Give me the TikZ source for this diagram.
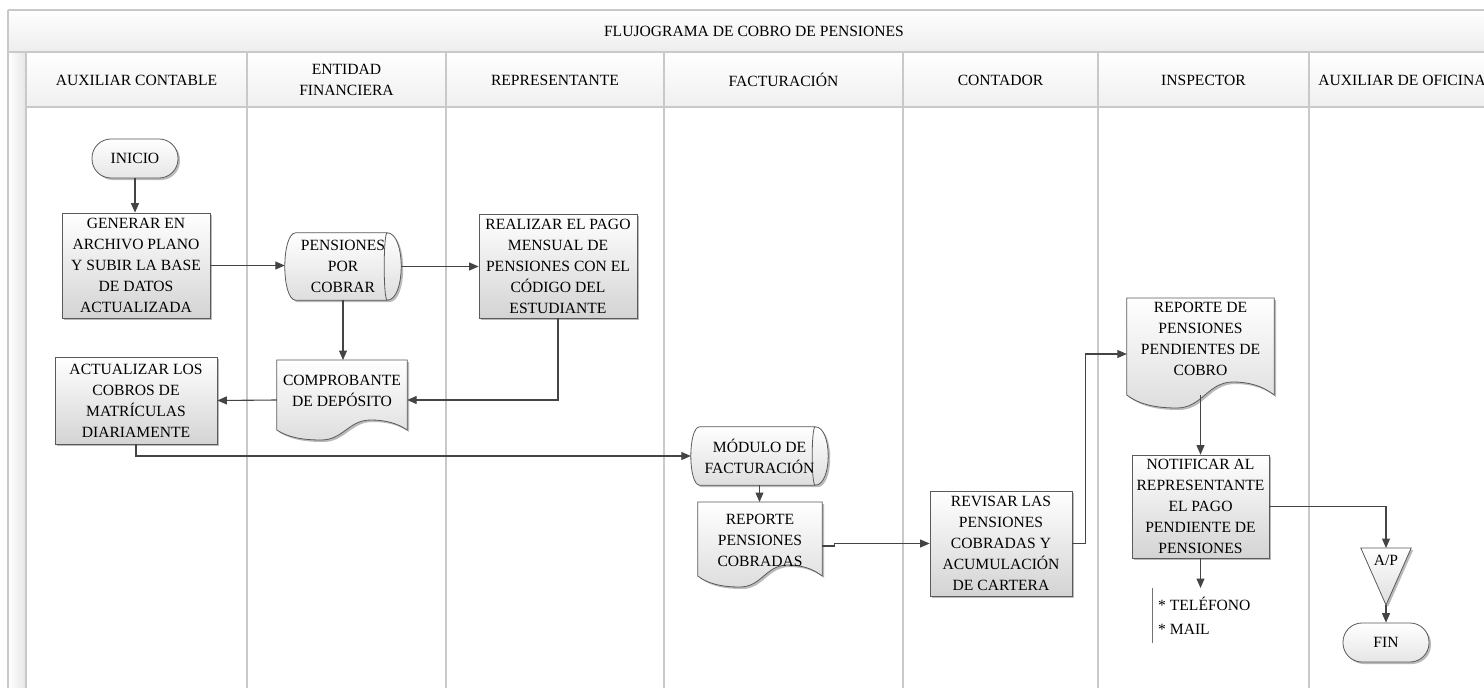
\documentclass[tikz,border=0pt]{standalone}
\usepackage{fontspec}
\setmainfont{Liberation Serif}
\usetikzlibrary{arrows.meta,calc,shadows}
\pgfdeclarelayer{lanes}
\pgfdeclarelayer{background}
\pgfsetlayers{lanes,background,main}
\definecolor{gridc}{HTML}{C9C9C9}
\definecolor{linec}{HTML}{444444}
\definecolor{boxc}{HTML}{5A5A5A}

\tikzset{
  txt/.style={font=\fontsize{15.6}{21}\selectfont, text=black},
  boxshadow/.style={drop shadow={shadow xshift=2pt, shadow yshift=-2pt, opacity=.45, fill=black!60}},
  proc/.style={txt, draw=boxc, line width=.8pt, top color=white, bottom color=black!17,
    boxshadow, align=center, inner sep=2pt},
  term/.style={proc, rounded corners=19pt, minimum width=86pt, minimum height=39pt, bottom color=black!10},
  plain/.style={txt, align=center, inner sep=3pt},
  shapebody/.style={draw=boxc, line width=.8pt, top color=white, bottom color=black!13, boxshadow},
  shapeline/.style={draw=boxc, line width=.8pt},
  conn/.style={draw=linec, line width=1.1pt, -{Triangle[length=9.5pt,width=8pt]}},
  lane/.style={draw=gridc, line width=1.4pt},
  hdr/.style={txt, align=center},
}

% document symbol: node, side height, wave amplitude
\newcommand{\docoutline}[3]{%
  \begin{pgfonlayer}{background}
  \path[shapebody] let \p1=(#1.north west), \p2=(#1.north east), \n1={\x2-\x1} in
    (\p1) -- (\p2) -- (\x2,{\y1-#2pt})
    .. controls ({\x2-0.08*\n1},{\y1-#2pt+0.7*#3pt}) and ({\x1+0.83*\n1},{\y1-#2pt+#3pt}) .. ({\x1+0.72*\n1},{\y1-#2pt+#3pt})
    .. controls ({\x1+0.55*\n1},{\y1-#2pt+#3pt}) and ({\x1+0.51*\n1},{\y1-#2pt-#3pt}) .. ({\x1+0.34*\n1},{\y1-#2pt-#3pt})
    .. controls ({\x1+0.19*\n1},{\y1-#2pt-#3pt}) and ({\x1+0.08*\n1},{\y1-#2pt-0.7*#3pt}) .. (\x1,{\y1-#2pt})
    -- cycle;
  \end{pgfonlayer}}

% stored data symbol: node, left bulge, right bulge, inner bulge
\newcommand{\storoutline}[4]{%
  \begin{pgfonlayer}{background}
  \path[shapebody] let \p1=(#1.north west), \p2=(#1.south east) in
    ({\x1+#2pt},\y1) -- ({\x2-#3pt},\y1)
    .. controls ({\x2+#3pt/3},\y1) and ({\x2+#3pt/3},\y2) .. ({\x2-#3pt},\y2)
    -- ({\x1+#2pt},\y2)
    .. controls ({\x1-#2pt/3},\y2) and ({\x1-#2pt/3},\y1) .. ({\x1+#2pt},\y1) -- cycle;
  \draw[shapeline] let \p1=(#1.north east), \p2=(#1.south east) in
    ({\x1-#3pt},\y1) .. controls ({\x1-#3pt-4/3*#4pt},\y1) and ({\x1-#3pt-4/3*#4pt},\y2) .. ({\x1-#3pt},\y2);
  \end{pgfonlayer}}

% off-page connector: node, height
\newcommand{\trioutline}[2]{%
  \begin{pgfonlayer}{background}
  \path[shapebody] let \p1=(#1.north west), \p2=(#1.north east), \p3=(#1.north) in
    (\p1) -- (\p2) -- (\x3,{\y3-#2pt}) -- cycle;
  \end{pgfonlayer}}

\begin{document}
\begin{tikzpicture}[x=1pt,y=-1pt]
\useasboundingbox (0,0) rectangle (1484,688);

% swimlane frame
\begin{pgfonlayer}{lanes}
  \fill[white] (0,0) rectangle (1484,688);
  \fill[top color=white, bottom color=black!7] (8,10) rectangle (1500,52);
  \fill[left color=white, right color=black!10] (8,52) rectangle (26,700);
  \foreach \a/\b in {26/247,247/446,446/664,664/903,903/1098,1098/1309,1309/1495}
    \fill[top color=white, bottom color=black!6] (\a,52) rectangle (\b,107);
  \draw[lane] (8,10) -- (1500,10);
  \draw[lane] (8,52) -- (1500,52);
  \draw[lane] (26,107) -- (1500,107);
  \draw[lane] (8,10) -- (8,700);
  \foreach \x in {26,247,446,664,903,1098,1309,1495}
    \draw[lane] (\x,52) -- (\x,700);
\end{pgfonlayer}

\node[hdr] (title) at (754,31) {FLUJOGRAMA DE COBRO DE PENSIONES};
\node[hdr] (h1) at (136.5,80) {AUXILIAR CONTABLE};
\node[hdr] (h2) at (346.5,80) {ENTIDAD\\FINANCIERA};
\node[hdr] (h3) at (555,80) {REPRESENTANTE};
\node[hdr] (h4) at (783.5,80) {FACTURACIÓN};
\node[hdr] (h5) at (1000.5,80) {CONTADOR};
\node[hdr] (h6) at (1203.5,80) {INSPECTOR};
\node[hdr] (h7) at (1402,80) {AUXILIAR DE OFICINA};

% flow symbols
\node[term] (ini) at (135,158.5) {INICIO};
\node[proc, minimum width=148pt, minimum height=105pt] (gen) at (136,265.5)
  {GENERAR EN\\ARCHIVO PLANO\\Y SUBIR LA BASE\\DE DATOS\\ACTUALIZADA};
\node[plain, minimum width=116pt, minimum height=67pt] (pen) at (343,266.5) {PENSIONES\\POR\\COBRAR};
\node[proc, minimum width=158pt, minimum height=104pt] (real) at (558,266)
  {REALIZAR EL PAGO\\MENSUAL DE\\PENSIONES CON EL\\CÓDIGO DEL\\ESTUDIANTE};
\node[plain, anchor=north, minimum width=130pt, minimum height=62pt] (comp) at (342,360)
  {COMPROBANTE\\DE DEPÓSITO};
\node[proc, minimum width=162pt, minimum height=87pt] (act) at (136,400.5)
  {ACTUALIZAR LOS\\COBROS DE\\MATRÍCULAS\\DIARIAMENTE};
\node[plain, minimum width=137pt, minimum height=58pt] (mod) at (759.5,456) {MÓDULO DE\\FACTURACIÓN};
\node[plain, anchor=north, minimum width=124pt, minimum height=76pt] (rcob) at (760,502)
  {REPORTE\\PENSIONES\\COBRADAS};
\node[proc, minimum width=142pt, minimum height=105pt] (rev) at (1001,543.5)
  {REVISAR LAS\\PENSIONES\\COBRADAS Y\\ACUMULACIÓN\\DE CARTERA};
\node[plain, anchor=north, minimum width=147pt, minimum height=82pt] (pend) at (1200.5,298)
  {REPORTE DE\\PENSIONES\\PENDIENTES DE\\COBRO};
\node[proc, minimum width=137pt, minimum height=103pt] (notif) at (1200.5,506.5)
  {NOTIFICAR AL\\REPRESENTANTE\\EL PAGO\\PENDIENTE DE\\PENSIONES};
\node[txt, anchor=north west, align=left, minimum height=55pt, inner xsep=6pt] (note) at (1152,588)
  {* TELÉFONO\\[3pt]* MAIL};
\node[plain, anchor=north, minimum width=50pt, inner ysep=7pt] (ap) at (1386,548) {A/P};
\node[term] (fin) at (1386,642.5) {FIN};

\docoutline{comp}{70}{10}
\docoutline{rcob}{74}{11}
\docoutline{pend}{97}{13}
\storoutline{pen}{11}{14}{3}
\storoutline{mod}{9}{13}{3}
\trioutline{ap}{57}
\draw[draw=black!55, line width=.8pt] (note.north west) -- (note.south west);

% connectors
\draw[conn] (ini.south) -- (ini.south |- gen.north);
\draw[conn] (gen.east) -- (gen.east -| pen.west);
\draw[conn] (pen.east) -- (pen.east -| real.west);
\draw[conn] (pen.south) -- (pen.south |- comp.north);
\draw[conn] (real.south) |- ([yshift=-40pt]comp.north east);
\draw[conn] ([yshift=-40pt]comp.north west) -- (act.east);
\draw[conn] (act.south) |- (mod.west);
\draw[conn] (mod.south) -- (mod.south |- rcob.north);
\draw[conn] ([yshift=-44pt]rcob.north east) -- ++(12,0) |- (rev.west);
\draw[conn] (rev.east) -- ++(13,0) |- ([yshift=-56pt]pend.north west);
\draw[conn] ([yshift=-97pt]pend.north) -- (notif.north);
\draw[conn] (notif.south) -- (notif.south |- note.north);
\draw[conn] (notif.east) -| (ap.north);
\draw[conn] ([yshift=-57pt]ap.north) -- (fin.north);
\end{tikzpicture}
\end{document}
